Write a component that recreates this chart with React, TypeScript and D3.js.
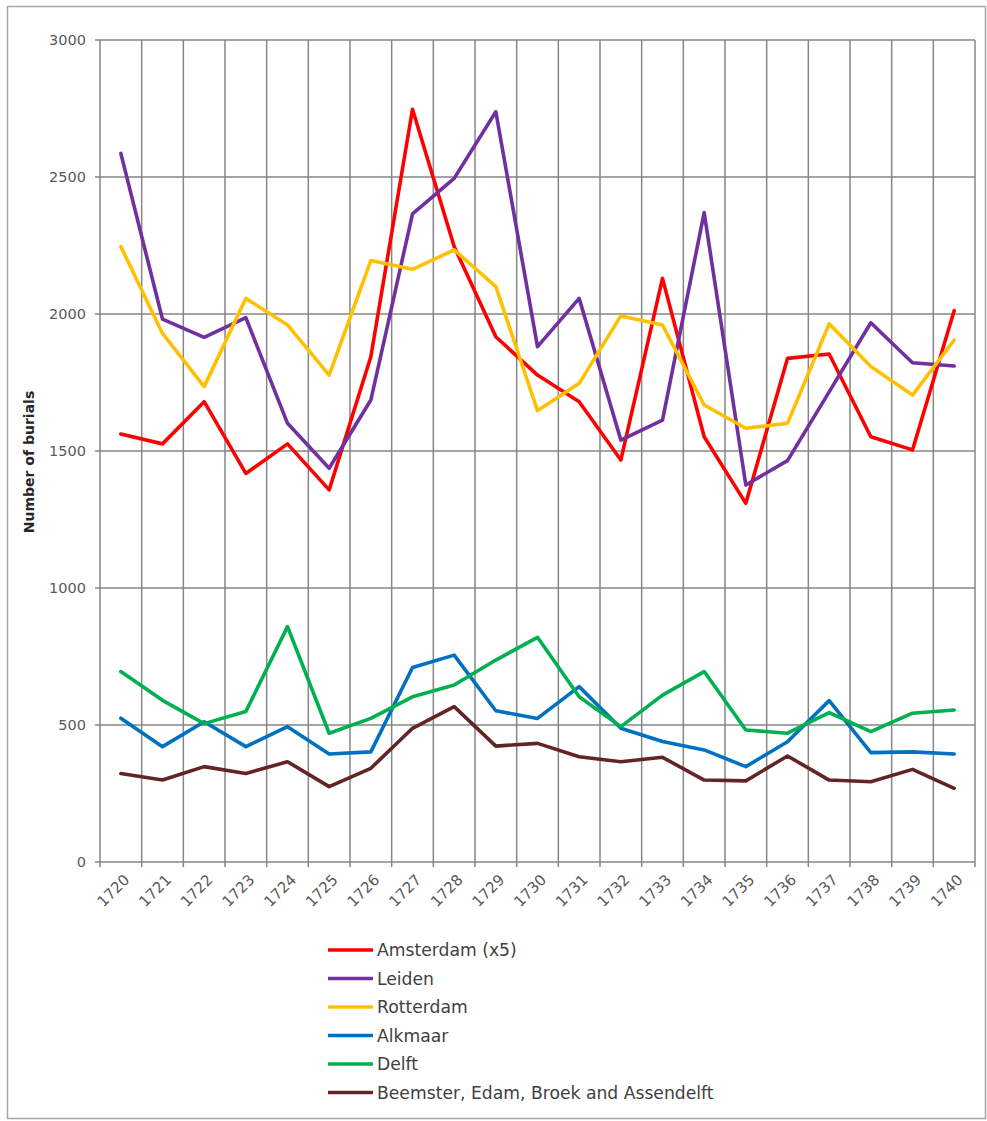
import React from "react";
import * as d3 from "d3";

const years = ["1720","1721","1722","1723","1724","1725","1726","1727","1728","1729","1730","1731","1732","1733","1734","1735","1736","1737","1738","1739","1740"];
const amsterdam = [1562,1526,1680,1418,1526,1358,1844,2747,2246,1917,1777,1680,1467,2130,1552,1309,1838,1854,1552,1504,2012];
const leiden = [2586,1981,1915,1987,1601,1437,1686,2365,2495,2738,1881,2057,1540,1613,2370,1376,1465,1716,1968,1822,1810];
const rotterdam = [2246,1929,1735,2057,1960,1777,2195,2163,2234,2100,1647,1747,1993,1960,1668,1583,1601,1964,1808,1704,1905];
const alkmaar = [525,421,512,421,494,394,402,710,755,552,524,640,488,440,409,348,439,589,399,402,394];
const delft = [695,590,505,549,859,470,524,603,646,737,820,603,494,609,695,482,470,545,476,543,555];
const beemster = [323,299,348,323,366,275,342,488,567,423,433,384,366,382,299,296,387,299,293,338,269];
const seriesNames = ["Amsterdam (x5)","Leiden","Rotterdam","Alkmaar","Delft","Beemster, Edam, Broek and Assendelft"];
const seriesColors = ["#ff0000","#7030a0","#ffc000","#0070c0","#00b050","#632523"];
const seriesValues = [amsterdam, leiden, rotterdam, alkmaar, delft, beemster];
const yTicks = [0,500,1000,1500,2000,2500,3000];
const yTitle = "Number of burials";

export default function App() {
  const W = 987, H = 1121;
  const left = 100, right = 975, top = 40, bottom = 862;
  const x = d3.scaleBand<string>().domain(years).range([left, right]).padding(0);
  const y = d3.scaleLinear().domain([0, 3000]).range([bottom, top]);
  const cx = (yr: string) => (x(yr) as number) + x.bandwidth() / 2;
  const line = d3.line<number>().x((_, i) => cx(years[i])).y((v) => y(v));
  const boundaries = years.map((yr) => x(yr) as number).concat([right]);
  const grid = "#868686";
  const font = "'DejaVu Sans', Verdana, sans-serif";
  return (
    <svg width={W} height={H} style={{ position: "absolute", left: 0, top: 0, background: "#fff" }}>
      <rect x={7.5} y={6.5} width={978} height={1112} fill="#fff" stroke="#a6a6a6" strokeWidth={1.5} />
      {boundaries.map((bx, i) => (
        <line key={"v" + i} x1={bx} x2={bx} y1={top} y2={bottom + 5} stroke={grid} strokeWidth={1.5} />
      ))}
      {yTicks.map((t) => (
        <g key={"h" + t}>
          <line x1={left - 5} x2={right} y1={y(t)} y2={y(t)} stroke={grid} strokeWidth={1.5} />
          <text x={86} y={y(t)} dy="0.35em" textAnchor="end" fontFamily={font} fontSize={14.5} fill="#595959">{t}</text>
        </g>
      ))}
      {years.map((yr) => (
        <text key={"xl" + yr} transform={`translate(${cx(yr) + 6},${bottom + 15}) rotate(-45)`} textAnchor="end" dy="0.35em" fontFamily={font} fontSize={15} fill="#595959">{yr}</text>
      ))}
      <text transform={`translate(34,${462}) rotate(-90)`} textAnchor="middle" fontFamily={font} fontSize={14} fontWeight="bold" fill="#262626">{yTitle}</text>
      {seriesValues.map((vals, i) => (
        <path key={"s" + i} d={line(vals) as string} fill="none" stroke={seriesColors[i]} strokeWidth={3.6} strokeLinejoin="round" strokeLinecap="round" />
      ))}
      {seriesNames.map((name, i) => {
        const ly = 950 + i * 28.5;
        return (
          <g key={"lg" + i}>
            <line x1={328} x2={373} y1={ly} y2={ly} stroke={seriesColors[i]} strokeWidth={3.6} />
            <text x={377} y={ly} dy="0.35em" fontFamily={font} fontSize={17.2} fill="#404040">{name}</text>
          </g>
        );
      })}
    </svg>
  );
}
